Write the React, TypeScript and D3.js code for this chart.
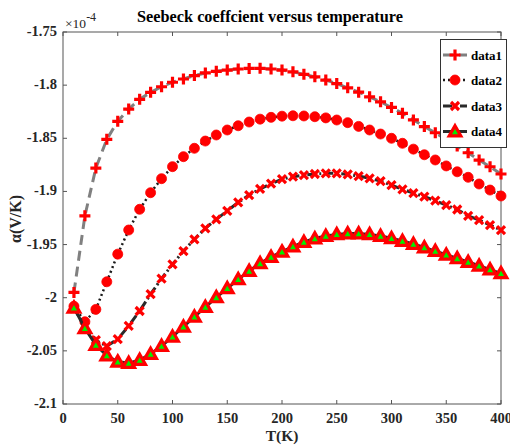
import React from "react";
import * as d3 from "d3";

// Temperatures (K)
const temps = [10, 20, 30, 40, 50, 60, 70, 80, 90, 100, 110, 120, 130, 140, 150, 160, 170, 180, 190, 200,
  210, 220, 230, 240, 250, 260, 270, 280, 290, 300, 310, 320, 330, 340, 350, 360, 370, 380, 390, 400];

// Seebeck coefficient values in units of 1e-4 V/K
const data1 = [-1.995, -1.923, -1.878, -1.851, -1.834, -1.8225, -1.8133, -1.8068, -1.8015, -1.7973,
  -1.7942, -1.791, -1.7885, -1.787, -1.7858, -1.7848, -1.7843, -1.7842, -1.7848, -1.7858,
  -1.7875, -1.7898, -1.7922, -1.7952, -1.7985, -1.8025, -1.8066, -1.811, -1.8157, -1.821,
  -1.8265, -1.8327, -1.839, -1.8448, -1.851, -1.8573, -1.8636, -1.8705, -1.8768, -1.8836];
const data2 = [-2.008, -2.0226, -2.011, -1.985, -1.959, -1.9363, -1.9168, -1.9012, -1.888, -1.8767,
  -1.8673, -1.8594, -1.8526, -1.8469, -1.8422, -1.8382, -1.8347, -1.832, -1.8303, -1.8292,
  -1.8288, -1.829, -1.8297, -1.8308, -1.8328, -1.8353, -1.8388, -1.8422, -1.846, -1.85,
  -1.8547, -1.8602, -1.8655, -1.8704, -1.876, -1.8815, -1.8867, -1.893, -1.8987, -1.9043];
const data3 = [-2.01, -2.027, -2.04, -2.0455, -2.039, -2.0265, -2.0125, -1.9966, -1.982, -1.9686,
  -1.9561, -1.945, -1.9347, -1.9263, -1.9182, -1.9103, -1.9034, -1.8977, -1.8927, -1.8885,
  -1.8861, -1.8846, -1.8836, -1.883, -1.883, -1.8839, -1.8855, -1.8877, -1.8902, -1.894,
  -1.898, -1.9015, -1.905, -1.9087, -1.9128, -1.917, -1.9229, -1.9269, -1.9316, -1.9363];
const data4 = [-2.0094, -2.0288, -2.0445, -2.0544, -2.0602, -2.0615, -2.0586, -2.053, -2.0455, -2.0367,
  -2.0273, -2.0179, -2.0088, -1.9997, -1.9912, -1.9827, -1.9749, -1.9677, -1.9617, -1.9567,
  -1.9519, -1.9476, -1.9443, -1.942, -1.9404, -1.9396, -1.9396, -1.9404, -1.942, -1.9441,
  -1.9467, -1.9495, -1.9528, -1.9561, -1.9596, -1.963, -1.9664, -1.9699, -1.9735, -1.9771];

const seriesNames = ["data1", "data2", "data3", "data4"];
const xTicks = [0, 50, 100, 150, 200, 250, 300, 350, 400];
const yTicks = [-1.75, -1.8, -1.85, -1.9, -1.95, -2, -2.05, -2.1];
const titleText = "Seebeck coeffcient versus temperature";
const xLabelText = "T(K)";
const yLabelText = "α(V/K)";
const exponentText = "-4";

const W = 510, H = 447;
const L = 63, R = 501, T = 32, B = 404;
const FONT = "'Liberation Serif', 'Times New Roman', serif";

const x = d3.scaleLinear().domain([0, 400]).range([L, R]);
const y = d3.scaleLinear().domain([-2.1, -1.75]).range([B, T]);

type Style = { stroke: string; dash: string; width: number; marker: string };
const styles: Style[] = [
  { stroke: "#808080", dash: "10,6", width: 3, marker: "plus" },
  { stroke: "#1a1a1a", dash: "2,3", width: 2.5, marker: "circle" },
  { stroke: "#2a2a2a", dash: "9,3,2,3", width: 3, marker: "x" },
  { stroke: "#2a2a2a", dash: "", width: 3, marker: "tri" },
];

function Marker({ kind, cx, cy }: { kind: string; cx: number; cy: number }) {
  if (kind === "plus") {
    const s = 5.5;
    return <path d={`M${cx - s},${cy}H${cx + s}M${cx},${cy - s}V${cy + s}`} stroke="#ff0000" strokeWidth={3.2} fill="none" />;
  }
  if (kind === "circle") {
    return <circle cx={cx} cy={cy} r={5} fill="#ff0000" stroke="#ff0000" strokeWidth={0.8} />;
  }
  if (kind === "x") {
    const s = 4;
    return <path d={`M${cx - s},${cy - s}L${cx + s},${cy + s}M${cx - s},${cy + s}L${cx + s},${cy - s}`} stroke="#ff0000" strokeWidth={3.2} fill="none" />;
  }
  const h = 5.8;
  return <path d={`M${cx},${cy - h}L${cx + h},${cy + h * 0.75}L${cx - h},${cy + h * 0.75}Z`} fill="#00ee00" stroke="#ff0000" strokeWidth={3.2} strokeLinejoin="miter" />;
}

export default function App() {
  const all = [data1, data2, data3, data4];
  const line = d3.line<number>().x((_, i) => x(temps[i])).y((v) => y(v));
  const legendY = [55, 80, 106, 131.5];
  return (
    <svg width={W} height={H} style={{ position: "absolute", left: 0, top: 0, background: "#fff" }}>
      <rect x={0} y={0} width={W} height={H} fill="#fff" />
      {/* axes box */}
      <rect x={L} y={T} width={R - L} height={B - T} fill="none" stroke="#555" strokeWidth={1} />
      {xTicks.map((t) => (
        <g key={"xt" + t}>
          <line x1={x(t)} x2={x(t)} y1={B} y2={B - 4} stroke="#555" />
          <line x1={x(t)} x2={x(t)} y1={T} y2={T + 4} stroke="#555" />
          <text x={x(t)} y={423} textAnchor="middle" fontFamily={FONT} fontWeight="bold" fontSize={14.5} fill="#262626">{t}</text>
        </g>
      ))}
      {yTicks.map((t) => (
        <g key={"yt" + t}>
          <line x1={L} x2={L + 4} y1={y(t)} y2={y(t)} stroke="#555" />
          <line x1={R} x2={R - 4} y1={y(t)} y2={y(t)} stroke="#555" />
          <text x={57} y={y(t) + 4} textAnchor="end" fontFamily={FONT} fontWeight="bold" fontSize={14.5} fill="#262626">{t}</text>
        </g>
      ))}
      <text x={65} y={27.5} fontFamily={FONT} fontSize={13.5} fill="#262626">×10<tspan dy={-7} fontSize={12}>{exponentText}</tspan></text>
      <text x={270} y={22} textAnchor="middle" fontFamily={FONT} fontWeight="bold" fontSize={16.3} fill="#000">{titleText}</text>
      <text x={282} y={441} textAnchor="middle" fontFamily={FONT} fontWeight="bold" fontSize={15.5} fill="#262626">{xLabelText}</text>
      <text transform={`translate(21,219) rotate(-90)`} textAnchor="middle" fontFamily={FONT} fontWeight="bold" fontSize={16} fill="#262626">{yLabelText}</text>
      {/* series */}
      {all.map((d, si) => (
        <g key={"s" + si}>
          <path d={line(d) || ""} fill="none" stroke={styles[si].stroke} strokeWidth={styles[si].width} strokeDasharray={styles[si].dash || undefined} />
          {d.map((v, i) => <Marker key={i} kind={styles[si].marker} cx={x(temps[i])} cy={y(v)} />)}
        </g>
      ))}
      {/* legend */}
      <rect x={440.5} y={39.5} width={66} height={108} fill="#fff" stroke="#333" strokeWidth={1} />
      {seriesNames.map((n, si) => (
        <g key={"lg" + n}>
          <line x1={443} x2={467} y1={legendY[si]} y2={legendY[si]} stroke={styles[si].stroke} strokeWidth={styles[si].width} strokeDasharray={styles[si].dash || undefined} />
          <Marker kind={styles[si].marker} cx={455} cy={legendY[si]} />
          <text x={471} y={legendY[si] + 4.5} fontFamily={FONT} fontWeight="bold" fontSize={13} fill="#000">{n}</text>
        </g>
      ))}
    </svg>
  );
}
